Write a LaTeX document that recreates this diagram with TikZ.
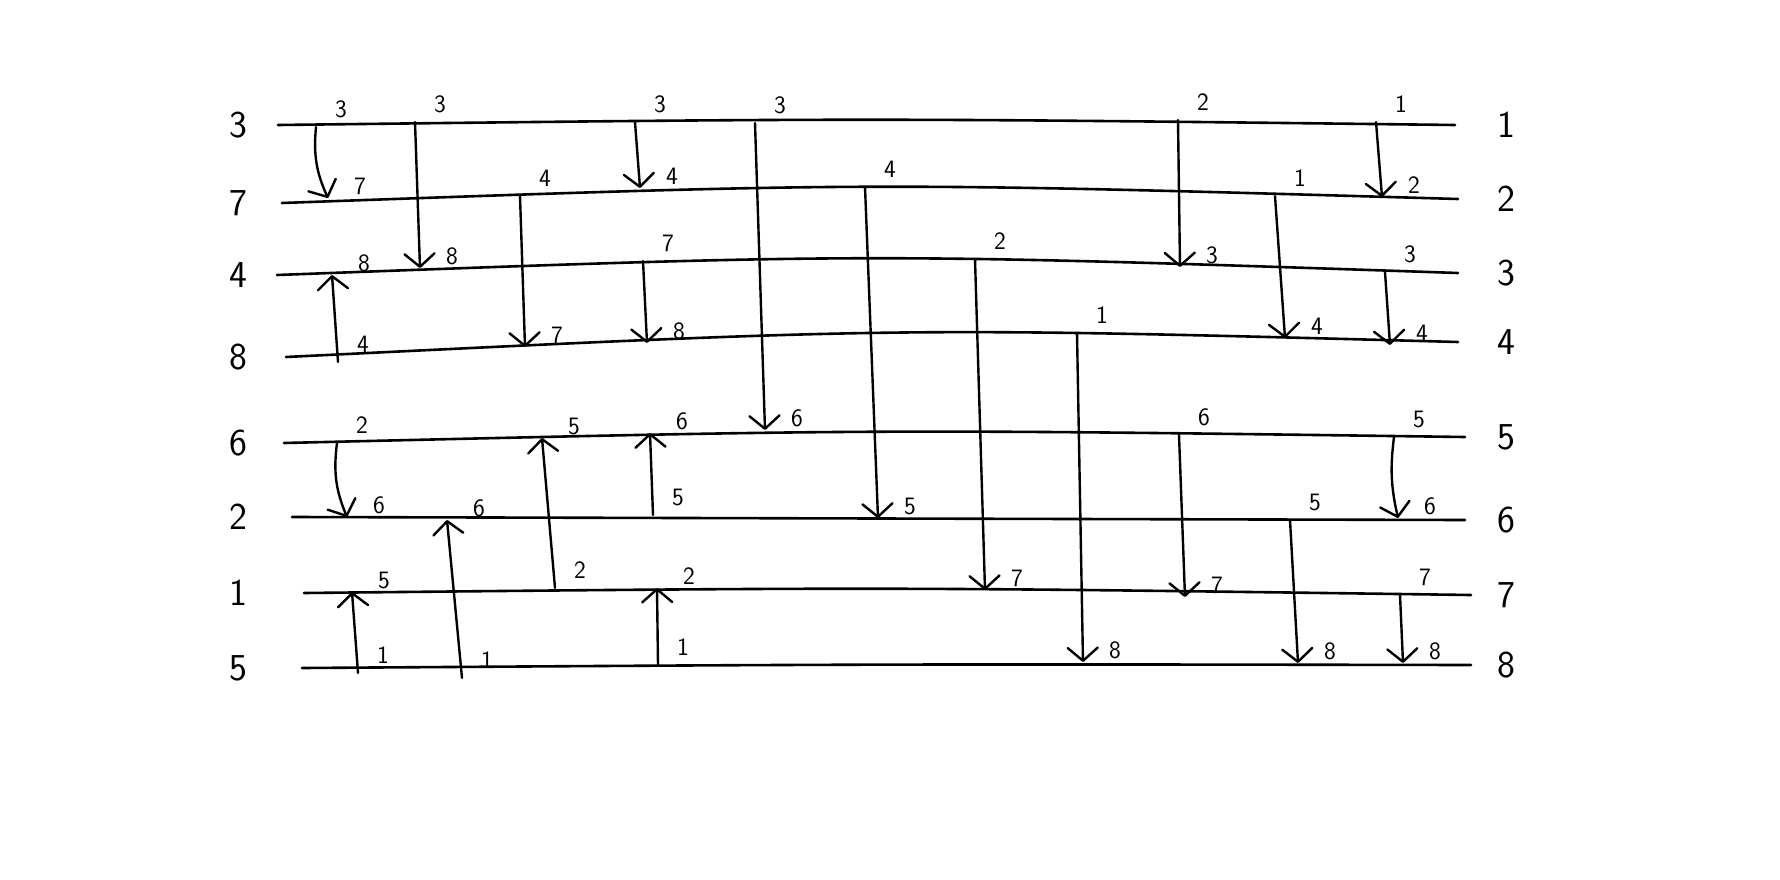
\documentclass[tikz,border=0pt]{standalone}
\usetikzlibrary{arrows.meta}
\begin{document}
\begin{tikzpicture}[
    x=1pt, y=-1pt,
    wire/.style={draw=black, line width=2.6pt, line cap=round},
    comp/.style={draw=black, line width=2.4pt, line cap=round,
        -{Straight Barb[length=13pt,width=30pt,round]}},
    side/.style={font=\sffamily\fontsize{38}{38}\selectfont},
    lbl/.style={font=\sffamily\fontsize{25}{25}\selectfont, inner sep=0pt}
]
    \fill[white] (0,0) rectangle (1780,880);
    \useasboundingbox (0,0) rectangle (1780,880);
    % wires: no / left / bend / right / input value / output rank
    \foreach \i/\xl/\yl/\xm/\ym/\xr/\yr/\a/\b in {
        1/278/125/866/118/1455/125/3/1,
        2/282/203/870/182/1458/199/7/2,
        3/277/275/868/253/1458/273/4/3,
        4/286/357/900/327/1458/342/8/4,
        5/284/443/875/429/1465/437/6/5,
        6/292/517/878/518/1465/520/2/6,
        7/304/593/888/587/1471/595/1/7,
        8/302/668/886/664/1471/665/5/8}
    {
        \coordinate (w\i l) at (\xl,\yl);
        \coordinate (w\i m) at (\xm,\ym);
        \coordinate (w\i r) at (\xr,\yr);
        \node[side] (in\i) at (238,\yl) {\a};
        \node[side] (out\i) at (1506,\yr) {\b};
        \draw[wire] (w\i l) .. controls (w\i m) .. (w\i r);
    }
    % comparators: start / tip / value at start / value at tip / bend
    \foreach \n/\xs/\ys/\xt/\yt/\p/\q/\bb in {
        a1/316/127/328/198/3/7/15,
        a2/415/122/420/268/3/8/0,
        a3/338/362/332/275/4/8/0,
        a4/520/196/525/347/4/7/0,
        a5/635/122/640/188/3/4/0,
        a6/643/261/647/343/7/8/0,
        a7/755/123/765/430/3/6/0,
        a8/865/187/878/518/4/5/0,
        a9/975/259/985/590/2/7/0,
        a10/1077/333/1083/662/1/8/0,
        a11/1178/120/1180/267/2/3/0,
        a12/1376/122/1382/197/1/2/0,
        a13/1275/196/1285/338/1/4/0,
        a14/1385/272/1390/345/3/4/0,
        b1/337/443/347/517/2/6/15,
        b2/358/673/352/592/1/5/0,
        b3/462/678/447/520/1/6/0,
        b4/555/588/542/438/2/5/0,
        b5/653/515/650/433/5/6/0,
        b6/658/665/657/588/1/2/0,
        b7/1179/435/1185/597/6/7/0,
        b8/1290/520/1298/663/5/8/0,
        b9/1394/437/1398/518/5/6/10,
        b10/1400/595/1403/663/7/8/0}
    {
        \coordinate (\n s) at (\xs,\ys);
        \coordinate (\n t) at (\xt,\yt);
        \node[lbl] (\n p) at ([shift={(25,-18)}]\n s) {\p};
        \node[lbl] (\n q) at ([shift={(32,-12)}]\n t) {\q};
        \draw[comp] (\n s) to[bend right=\bb] (\n t);
    }
\end{tikzpicture}
\end{document}
